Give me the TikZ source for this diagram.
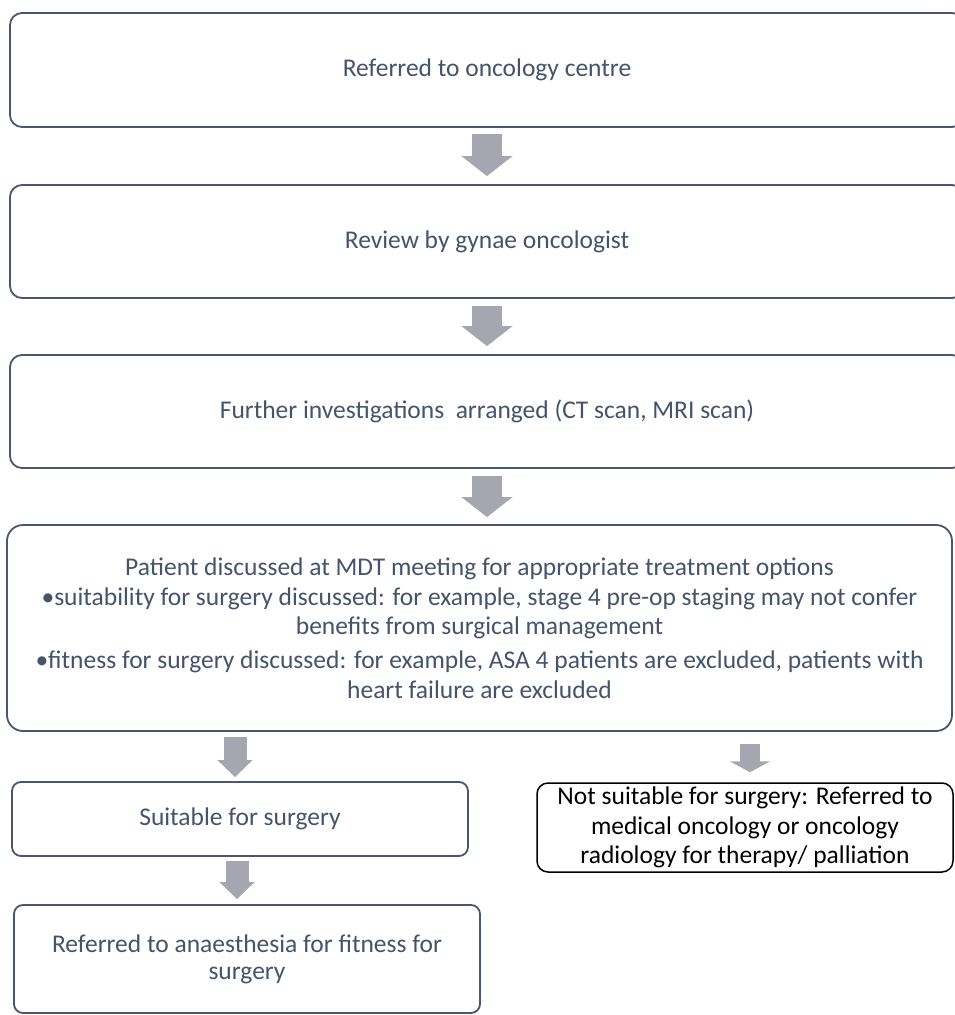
\documentclass[tikz,border=0pt]{standalone}
\usepackage{fontspec}
\setmainfont{Carlito}
\usetikzlibrary{arrows.meta,calc}
\definecolor{txt}{HTML}{44546A}
\definecolor{brd}{HTML}{4A566B}
\definecolor{arr}{HTML}{A6A6B0}
\tikzset{
  box/.style={draw=brd, line width=1.8pt, rounded corners=12pt, text=txt, align=center,
    font=\fontsize{25.5}{27}\selectfont, inner sep=0pt, fill=white},
  mdtbox/.style={box, rounded corners=16pt, font=\fontsize{25.5}{29.7}\selectfont},
  smallbox/.style={box, rounded corners=9pt},
  blackbox/.style={draw=black, line width=1.5pt, rounded corners=11pt, text=black, align=center,
    font=\fontsize{25.5}{29.5}\selectfont, inner sep=0pt, fill=white},
  bigarrow/.style={draw=arr, line width=30pt, -{Triangle[width=50pt,length=20pt,fill=arr]}},
  midarrow/.style={draw=arr, line width=23pt, -{Triangle[width=34pt,length=17pt,fill=arr]}},
  smallarrow/.style={draw=arr, line width=20pt, -{Triangle[width=40pt,length=11pt,fill=arr]}},
}
\begin{document}
\begin{tikzpicture}[x=1pt,y=-1pt]
\useasboundingbox (0,0) rectangle (955,1015);
\clip (0,0) rectangle (955,1015);
\fill[white] (0,0) rectangle (955,1015);
\node[box, minimum width=954pt, minimum height=114pt] (b1) at (487,70) {Referred to oncology centre};
\node[box, minimum width=954pt, minimum height=113pt] (b2) at (487,241.5) {Review by gynae oncologist};
\node[box, minimum width=954pt, minimum height=113pt] (b3) at (487,411.5) {Further investigations\ \ arranged (CT scan, MRI scan)};
\node[mdtbox, minimum width=945pt, minimum height=206pt] (b4) at (479.5,628) {Patient discussed at MDT meeting for appropriate treatment options\\
•suitability for surgery discussed: for example, stage 4 pre-op staging may not confer\\
benefits from surgical management\\[4pt]
•fitness for surgery discussed: for example, ASA 4 patients are excluded, patients with\\
heart failure are excluded};
\node[smallbox, minimum width=456pt, minimum height=74pt] (b5) at (240,819) {Suitable for surgery};
\node[smallbox, minimum width=466pt, minimum height=108pt] (b6) at (247,959) {Referred to anaesthesia for fitness for\\surgery};
\node[blackbox, minimum width=416pt, minimum height=89pt] (b7) at (745,827.5) {Not suitable for surgery: Referred to\\medical oncology or oncology\\radiology for therapy/ palliation};
\draw[bigarrow] ($(b1.south)+(0,6)$) -- ($(b2.north)+(0,-8)$);
\draw[bigarrow] ($(b2.south)+(0,7)$) -- ($(b3.north)+(0,-8)$);
\draw[bigarrow] ($(b3.south)+(0,7)$) -- ($(b4.north -| b3.south)+(0,-7)$);
\draw[midarrow] ($(b4.south -| b5.north)+(-5,5)$) -- ($(b5.north)+(-5,-4)$);
\draw[midarrow] ($(b5.south)+(-3,4)$) -- ($(b6.north -| b5.south)+(-3,-5)$);
\draw[smallarrow] ($(b4.south -| b7.north)+(5,12)$) -- ($(b7.north)+(5,-10)$);
\end{tikzpicture}
\end{document}
